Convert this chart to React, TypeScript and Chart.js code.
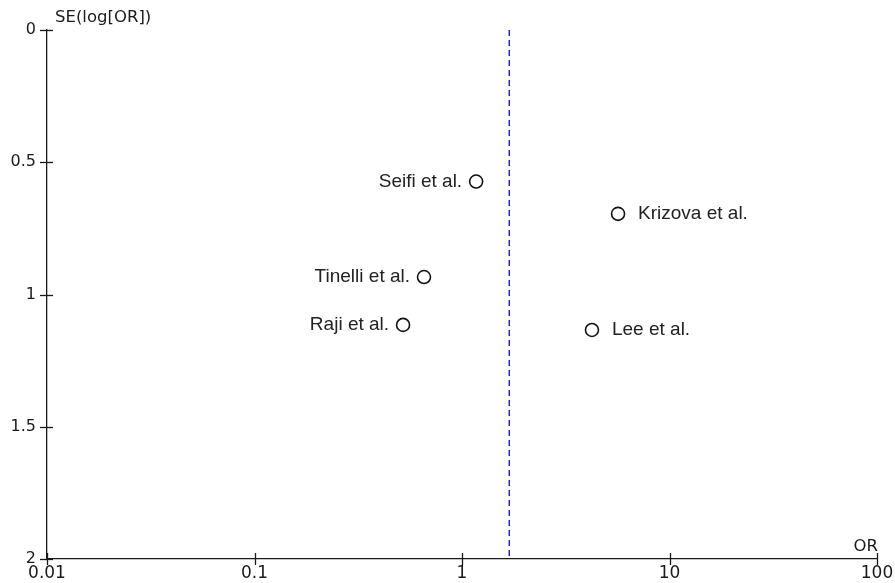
import React, { useEffect, useRef } from "react";
import { Chart, registerables } from "chart.js";

Chart.register(...registerables);

const studies = ["Seifi et al.", "Krizova et al.", "Tinelli et al.", "Raji et al.", "Lee et al."];
const orValues = [1.17, 5.65, 0.656, 0.52, 4.23];
const seValues = [0.573, 0.695, 0.934, 1.115, 1.134];
const labelSide = ["left", "right", "left", "left", "right"];
const pooledOR = 1.69;
const xTicks = [0.01, 0.1, 1, 10, 100];
const xTickLabels = ["0.01", "0.1", "1", "10", "100"];
const yTicks = [0, 0.5, 1, 1.5, 2];
const yTitle = "SE(log[OR])";
const xTitle = "OR";

const W = 895;
const H = 583;
const LEFT = 47;
const RIGHT = 877;
const TOP = 30;
const BOTTOM = 559;
const AXIS = "#1a1a1a";

const overlayPlugin = {
  id: "overlay",
  afterDraw(chart: any) {
    const ctx = chart.ctx;
    const xs = chart.scales.x;
    const ys = chart.scales.y;
    ctx.save();
    ctx.strokeStyle = AXIS;
    ctx.lineWidth = 1.3;
    xTicks.forEach((v) => {
      const px = Math.round(xs.getPixelForValue(v)) + 0.5;
      ctx.beginPath();
      ctx.moveTo(px, BOTTOM - 6);
      ctx.lineTo(px, BOTTOM + 6);
      ctx.stroke();
    });
    yTicks.forEach((v) => {
      const py = Math.round(ys.getPixelForValue(v)) + 0.5;
      ctx.beginPath();
      ctx.moveTo(LEFT - 7, py);
      ctx.lineTo(LEFT + 6, py);
      ctx.stroke();
    });
    ctx.fillStyle = AXIS;
    ctx.font = "16.5px 'DejaVu Sans'";
    ctx.textBaseline = "alphabetic";
    ctx.textAlign = "left";
    ctx.fillText(yTitle, 55, 22);
    ctx.textAlign = "right";
    ctx.fillText(xTitle, 878, 551);
    ctx.font = "19px 'Liberation Sans'";
    ctx.fillStyle = "#222";
    ctx.textBaseline = "middle";
    studies.forEach((s, i) => {
      const px = xs.getPixelForValue(orValues[i]);
      const py = ys.getPixelForValue(seValues[i]);
      if (labelSide[i] === "left") {
        ctx.textAlign = "right";
        ctx.fillText(s, px - 14, py);
      } else {
        ctx.textAlign = "left";
        ctx.fillText(s, px + 20, py);
      }
    });
    ctx.restore();
  },
};

export default function App() {
  const ref = useRef<HTMLCanvasElement | null>(null);
  useEffect(() => {
    document.body.style.margin = "0";
    document.body.style.background = "#ffffff";
    const chart = new Chart(ref.current as HTMLCanvasElement, {
      type: "scatter",
      data: {
        datasets: [
          {
            label: "Studies",
            data: orValues.map((v, i) => ({ x: v, y: seValues[i] })),
            pointRadius: 6.5,
            pointBorderWidth: 1.6,
            pointBorderColor: "#111",
            pointBackgroundColor: "#ffffff",
            showLine: false,
          },
          {
            label: "Pooled",
            data: [
              { x: pooledOR, y: 0 },
              { x: pooledOR, y: 2 },
            ],
            showLine: true,
            borderColor: "#1f1fdd",
            borderWidth: 1.5,
            borderDash: [6, 4],
            pointRadius: 0,
          },
        ],
      },
      options: {
        responsive: false,
        animation: false,
        layout: { padding: { top: TOP, right: W - RIGHT, left: 0, bottom: 0 } },
        plugins: { legend: { display: false }, tooltip: { enabled: false } },
        scales: {
          x: {
            type: "logarithmic",
            min: 0.01,
            max: 100,
            afterBuildTicks: (s: any) => {
              s.ticks = xTicks.map((v) => ({ value: v, major: true }));
            },
            afterFit: (s: any) => {
              s.height = H - BOTTOM;
              s.paddingLeft = 0;
              s.paddingRight = 0;
            },
            grid: { display: false, drawTicks: false },
            border: { display: true, color: AXIS, width: 1.3 },
            ticks: {
              autoSkip: false,
              maxRotation: 0,
              padding: 6,
              color: AXIS,
              font: { family: "'DejaVu Sans'", size: 17, lineHeight: 1 },
              callback: (v: any) => {
                const i = xTicks.findIndex((t) => Math.abs(t - Number(v)) < 1e-9);
                return i >= 0 ? xTickLabels[i] : "";
              },
            },
          },
          y: {
            type: "linear",
            reverse: true,
            min: 0,
            max: 2,
            afterBuildTicks: (s: any) => {
              s.ticks = yTicks.map((v) => ({ value: v }));
            },
            afterFit: (s: any) => {
              s.width = LEFT;
              s.paddingTop = 0;
              s.paddingBottom = 0;
            },
            grid: { display: false, drawTicks: false },
            border: { display: true, color: AXIS, width: 1.3 },
            ticks: {
              padding: 11,
              color: AXIS,
              font: { family: "'DejaVu Sans'", size: 16 },
              callback: (v: any) => String(v),
            },
          },
        },
      },
      plugins: [overlayPlugin],
    });
    return () => chart.destroy();
  }, []);
  return <canvas ref={ref} width={W} height={H} style={{ display: "block" }} />;
}
